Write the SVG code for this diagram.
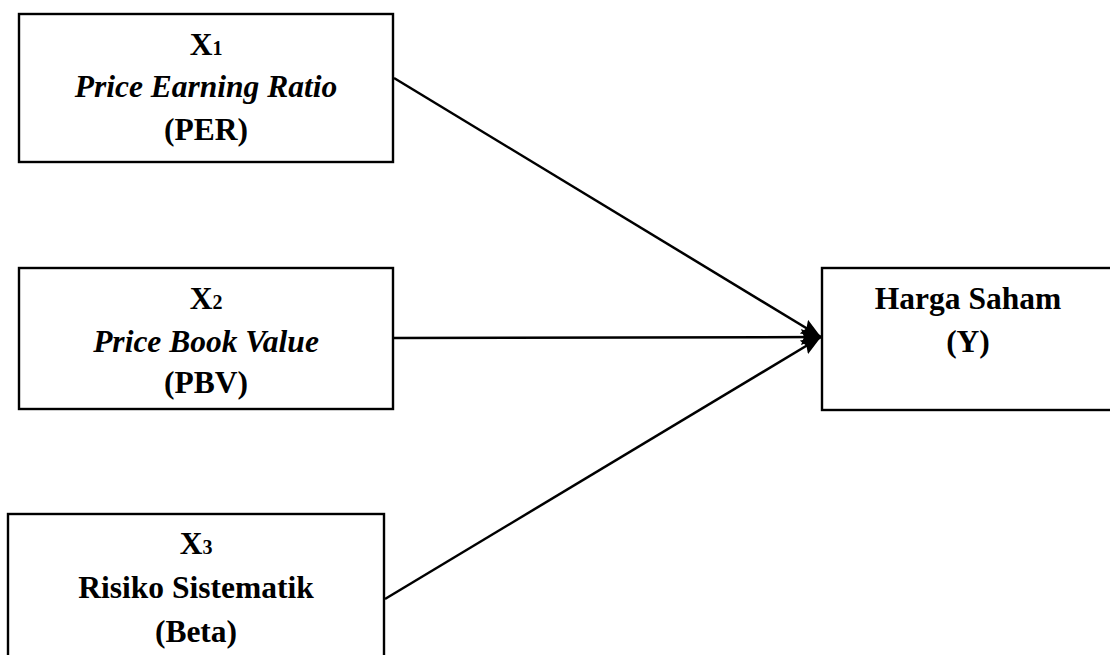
<svg xmlns="http://www.w3.org/2000/svg" width="1110" height="655" viewBox="0 0 1110 655">
<style>
.box{fill:#fff;stroke:#000;stroke-width:2.4}
text{font-family:"Liberation Serif","Times New Roman",serif;font-size:31.5px;font-weight:bold;fill:#000;text-anchor:middle}
.it{font-style:italic}
.sub{font-size:20px}
.conn{stroke:#000;stroke-width:2.5;fill:none}
</style>
<defs>
<marker id="arrow" viewBox="0 0 20 16" refX="20" refY="8" markerWidth="20" markerHeight="16" markerUnits="userSpaceOnUse" orient="auto">
<path d="M0,0 L20,8 L0,16 L3,8 Z" fill="#000"/>
</marker>
</defs>
<g id="x1">
<rect class="box" x="19" y="14" width="374" height="148"/>
<text x="206" y="55">X<tspan class="sub">1</tspan></text>
<text class="it" x="206" y="97">Price Earning Ratio</text>
<text x="206" y="140">(PER)</text>
</g>
<g id="x2">
<rect class="box" x="19" y="268" width="374" height="141"/>
<text x="206" y="309">X<tspan class="sub">2</tspan></text>
<text class="it" x="206" y="352">Price Book Value</text>
<text x="206" y="393">(PBV)</text>
</g>
<g id="x3">
<rect class="box" x="8" y="514" width="376" height="160"/>
<text x="196" y="554">X<tspan class="sub">3</tspan></text>
<text x="196" y="598">Risiko Sistematik</text>
<text x="196" y="642">(Beta)</text>
</g>
<g id="y">
<rect class="box" x="822" y="268" width="300" height="142"/>
<text x="968" y="309">Harga Saham</text>
<text x="968" y="352">(Y)</text>
</g>
<g id="connectors">
<line class="conn" x1="394" y1="78" x2="821" y2="337" marker-end="url(#arrow)"/>
<line class="conn" x1="394" y1="338" x2="821" y2="337" marker-end="url(#arrow)"/>
<line class="conn" x1="385" y1="599" x2="821" y2="337" marker-end="url(#arrow)"/>
</g>
</svg>
